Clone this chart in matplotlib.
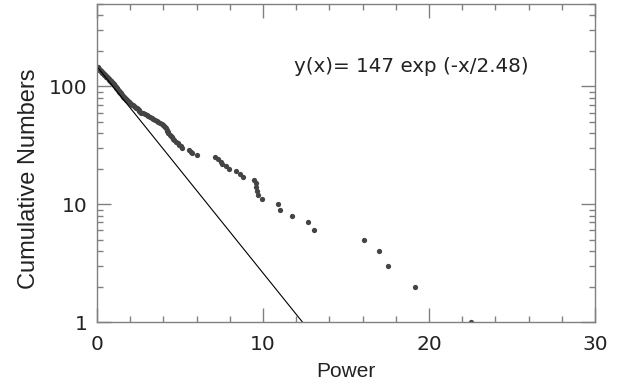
import numpy as np
import matplotlib
matplotlib.use('Agg')
import matplotlib.pyplot as plt
from matplotlib.ticker import FixedLocator, MultipleLocator, NullFormatter

# power of each event, largest count first
power = [
    0.00, 0.02, 0.03, 0.05, 0.07, 0.08, 0.10, 0.12,
    0.14, 0.17, 0.19, 0.21, 0.24, 0.26, 0.28, 0.30, 0.33, 0.35,
    0.37, 0.40, 0.42, 0.45, 0.47, 0.50, 0.52, 0.55, 0.57, 0.60,
    0.62, 0.65, 0.67, 0.70, 0.72, 0.75, 0.77, 0.80, 0.82, 0.85,
    0.87, 0.90, 0.92, 0.95, 0.97, 1.00, 1.02, 1.05, 1.07, 1.10,
    1.12, 1.15, 1.17, 1.20, 1.22, 1.25, 1.27, 1.30, 1.32, 1.35,
    1.38, 1.41, 1.44, 1.47, 1.50, 1.53, 1.56, 1.59, 1.62, 1.65,
    1.69, 1.73, 1.77, 1.81, 1.85, 1.90, 1.95, 2.00, 2.05, 2.10,
    2.16, 2.22, 2.28, 2.34, 2.40, 2.45, 2.50, 2.55, 2.60, 2.65,
    2.78, 2.90, 3.00, 3.10, 3.20, 3.30, 3.40, 3.48, 3.60, 3.70,
    3.82, 3.90, 3.98, 4.05, 4.10, 4.15, 4.20, 4.24, 4.27, 4.30,
    4.37, 4.43, 4.50, 4.56, 4.65, 4.75, 4.85, 4.95, 5.05, 5.12,
    5.55, 5.65, 5.75, 6.05, 7.10, 7.30, 7.45, 7.55, 7.80, 7.95,
    8.35, 8.60, 8.80, 9.45, 9.55, 9.60, 9.65, 9.70, 9.95, 10.90,
    11.05, 11.75, 12.70, 13.10, 16.10, 17.00, 17.55, 19.15, 22.55,
]
# cumulative number = events with power >= x
cum_numbers = np.arange(len(power), 0, -1)

# fit from the label
amp = 147
tau = 2.48

x_ticks = [0, 10, 20, 30]
y_ticks = [1, 10, 100]
y_ticklabels = ['1', '10', '100']

fig = plt.figure(figsize=(6.37, 3.88), dpi=100)
ax = fig.add_axes([0.1523, 0.170, 0.7817, 0.8197])

ax.plot(power, cum_numbers, 'o', ms=3.8, color='#444444', mec='none')

xf = np.linspace(0, 30, 400)
yf = amp * np.exp(-xf / tau)
ax.plot(xf, yf, color='black', lw=0.8)

ax.set_yscale('log')
ax.set_xlim(0, 30)
ax.set_ylim(1, 500)

ax.xaxis.set_major_locator(FixedLocator(x_ticks))
ax.xaxis.set_minor_locator(MultipleLocator(2))
ax.yaxis.set_major_locator(FixedLocator(y_ticks))
ax.set_yticklabels(y_ticklabels)
ax.yaxis.set_minor_formatter(NullFormatter())

for s in ax.spines.values():
    s.set_color('#808080')
    s.set_linewidth(1.0)
ax.tick_params(which='both', direction='in', top=True, right=True,
               color='#808080', labelsize=14.5, labelcolor='#222222')
ax.tick_params(which='major', length=10, width=1.0)
ax.tick_params(axis='x', which='major', pad=9)
ax.tick_params(axis='y', which='major', pad=7)
ax.tick_params(which='minor', length=4, width=1.0)

ax.set_xlabel('Power', fontsize=15, family='Liberation Sans',
              color='#222222', labelpad=6)
ax.set_ylabel('Cumulative Numbers', fontsize=17, family='Liberation Sans',
              color='#222222')
ax.yaxis.set_label_coords(-0.115, 0.45)

fig.text(411 / 637, 1 - 66 / 388, 'y(x)= 147 exp (-x/2.48)',
         ha='center', va='center', fontsize=14.3, color='#222222')

fig.savefig('out.png', dpi=100)
